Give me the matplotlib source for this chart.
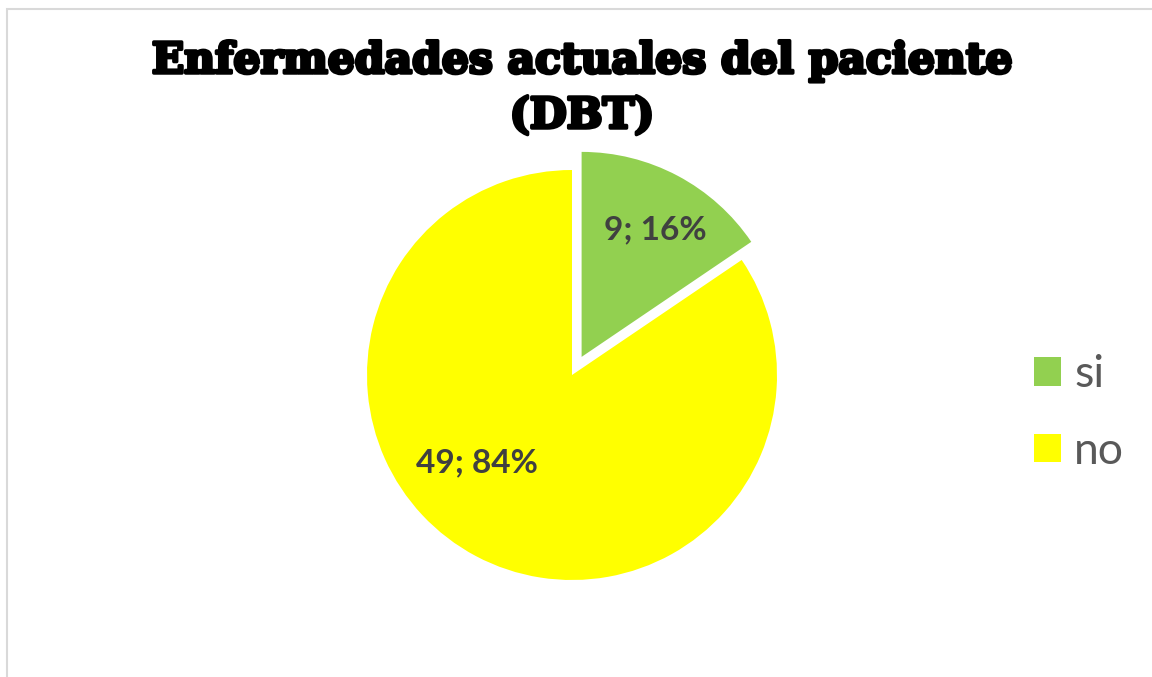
import matplotlib
matplotlib.use("Agg")
import matplotlib.pyplot as plt
from matplotlib.patches import Patch, Rectangle
import matplotlib.patheffects as pe
import numpy as np

categories = ["si", "no"]
values = [9, 49]
colors = ["#92D050", "#FFFF00"]
explode = [0.1, 0.0]
title_line1 = "Enfermedades actuales del paciente"
title_line2 = "(DBT)"

W, H = 1152, 677
fig = plt.figure(figsize=(W / 100, H / 100), dpi=100)
fig.patch.set_facecolor("white")

# frame (only left/top visible in reference)
fig.add_artist(Rectangle((6.5 / W, -0.1), 1.2, 1 - 8.5 / H + 0.1, transform=fig.transFigure,
                         fill=False, edgecolor="#D9D9D9", lw=1.5))

R = 205
cx, cy = 572, 375
span = 1.2
size = 2 * span * R
ax = fig.add_axes([(cx - span * R) / W, (H - cy - span * R) / H, size / W, size / H])
wedges, _ = ax.pie(values, colors=colors, explode=explode, startangle=90, counterclock=False,
                   wedgeprops=dict(linewidth=0))
ax.set_xlim(-span, span)
ax.set_ylim(-span, span)
ax.axis("off")

total = sum(values)
label_pos = [(0.405, 0.707), (-0.463, -0.429)]
for v, (x, y) in zip(values, label_pos):
    ax.text(x, y, f"{v}; {round(100 * v / total)}%", ha="center", va="center",
            fontsize=24, fontweight="bold", color="#404040", family="Lato")

for txt, yy in [(title_line1, 61), (title_line2, 116)]:
    fig.text(582 / W, 1 - yy / H, txt, ha="center", va="center", fontsize=30.6,
             fontweight="bold", family="DejaVu Serif", color="black",
             path_effects=[pe.withStroke(linewidth=2.5, foreground="black")])

handles = [Patch(facecolor=c, edgecolor="none") for c in colors]
fig.legend(handles, categories, loc="center left", bbox_to_anchor=(1034 / W, 1 - 413 / H),
           frameon=False, labelcolor="#595959", handlelength=0.6, handleheight=0.6,
           handletextpad=0.3, labelspacing=0.8, borderpad=0, borderaxespad=0,
           prop=dict(family="Lato", size=32))

fig.savefig("out.png", dpi=100, facecolor="white")
